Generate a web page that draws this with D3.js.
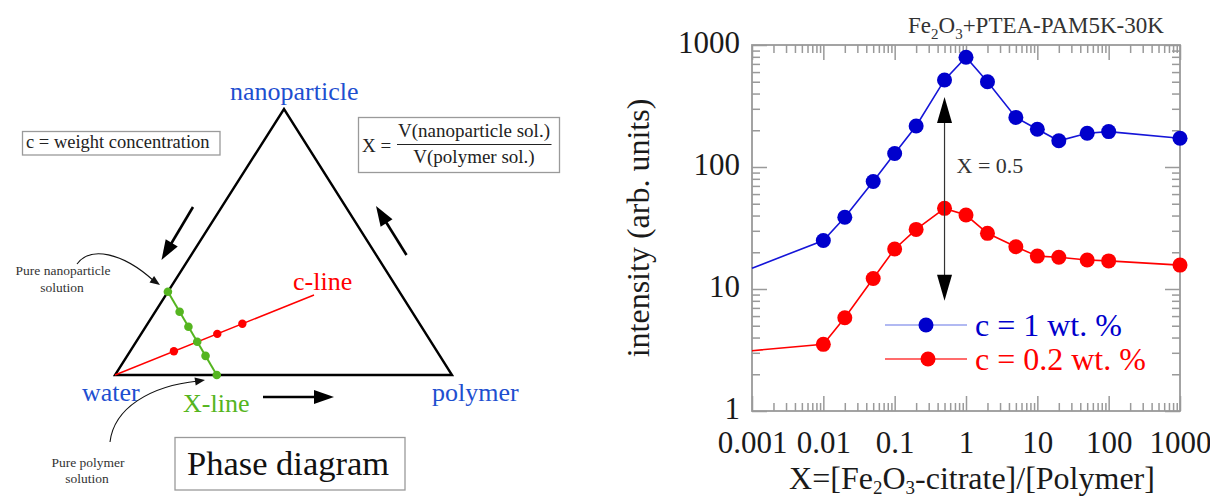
<!DOCTYPE html>
<html><head><meta charset="utf-8">
<script src="https://cdn.jsdelivr.net/npm/d3@7"></script>
<style>
body{margin:0;background:#fff}
svg{display:block}
text{font-family:"Liberation Serif","Times New Roman",serif}
</style>
</head><body>
<svg id="c" width="1210" height="502"></svg>
<script>
// ---------------- data (right chart) ----------------
const xRatio = [0.01, 0.02, 0.05, 0.1, 0.2, 0.5, 1, 2, 5, 10, 20, 50, 100, 1000];
const intensity1wt = [25, 38.7, 76, 129, 217, 517, 793, 500, 255, 204, 164, 189, 195, 172];
const intensity02wt = [3.52, 5.82, 12.2, 21.3, 30.8, 45.8, 40.4, 28.6, 22.2, 18.6, 18.2, 17.3, 17.0, 15.7];
const lineStartX = 0.001;            // lines continue to the left edge
const lineStart1wt = 14.8;
const lineStart02wt = 3.12;
const xTickLabels = ["0.001", "0.01", "0.1", "1", "10", "100", "1000"];
const yTickLabels = ["1", "10", "100", "1000"];
const seriesNames = ["c = 1 wt. %", "c = 0.2 wt. %"];
const arrowX = 0.5, arrowFrom = 8.0, arrowTo = 375;

// ---------------- data (phase diagram) ----------------
const cornerNames = ["water", "polymer", "nanoparticle"];
const cLineDots = [0.296, 0.514, 0.64];       // fractions along c-line
const xLineDots = [0, 0.24, 0.42, 0.60, 0.77, 1]; // fractions along X-line

const svg = d3.select("#c");
const BLUE = "#0000cc", RED = "#ff0000";

// ================= RIGHT CHART =================
const x = d3.scaleLog().domain([0.001, 1000]).range([752, 1180]);
const y = d3.scaleLog().domain([1, 1000]).range([411, 45]);
const majorX = xTickLabels.map(Number), majorY = yTickLabels.map(Number);
const minorX = x.ticks().filter(v => !majorX.some(m => Math.abs(m - v) / m < 1e-6));
const minorY = y.ticks().filter(v => !majorY.some(m => Math.abs(m - v) / m < 1e-6));
const g = svg.append("g");
const TICKC = "#9a9a9a";

function styleAxis(sel){
  sel.select(".domain").remove();
  sel.selectAll(".tick line").attr("stroke", TICKC).attr("stroke-width", 1.5);
  sel.selectAll(".tick text").attr("fill", "#1a1a1a").style("font-family", '"Liberation Serif",serif');
}
// bottom
g.append("g").attr("transform", "translate(0,411)")
  .call(d3.axisBottom(x).tickValues(majorX).tickSize(-15).tickPadding(20).tickFormat((d, i) => xTickLabels[i]))
  .call(styleAxis).call(s => s.selectAll(".tick text").attr("font-size", 31));
g.append("g").attr("transform", "translate(0,411)")
  .call(d3.axisBottom(x).tickValues(minorX).tickSize(-8).tickFormat("")).call(styleAxis);
// top
g.append("g").attr("transform", "translate(0,45)")
  .call(d3.axisTop(x).tickValues(majorX).tickSize(-15).tickFormat("")).call(styleAxis);
g.append("g").attr("transform", "translate(0,45)")
  .call(d3.axisTop(x).tickValues(minorX).tickSize(-8).tickFormat("")).call(styleAxis);
// left
g.append("g").attr("transform", "translate(752,0)")
  .call(d3.axisLeft(y).tickValues(majorY).tickSize(-15).tickPadding(12).tickFormat((d, i) => yTickLabels[i]))
  .call(styleAxis).call(s => s.selectAll(".tick text").attr("font-size", 31).attr("dy", "0.24em"));
g.append("g").attr("transform", "translate(752,0)")
  .call(d3.axisLeft(y).tickValues(minorY).tickSize(-8).tickFormat("")).call(styleAxis);
// right
g.append("g").attr("transform", "translate(1180,0)")
  .call(d3.axisRight(y).tickValues(majorY).tickSize(-15).tickFormat("")).call(styleAxis);
g.append("g").attr("transform", "translate(1180,0)")
  .call(d3.axisRight(y).tickValues(minorY).tickSize(-8).tickFormat("")).call(styleAxis);
// frame
g.append("rect").attr("x", 752).attr("y", 45).attr("width", 428).attr("height", 366)
  .attr("fill", "none").attr("stroke", TICKC).attr("stroke-width", 1.8);

// series
const line = d3.line().x(d => x(d[0])).y(d => y(d[1]));
const s1 = [[lineStartX, lineStart1wt]].concat(xRatio.map((v, i) => [v, intensity1wt[i]]));
const s2 = [[lineStartX, lineStart02wt]].concat(xRatio.map((v, i) => [v, intensity02wt[i]]));
g.append("path").datum(s1).attr("d", line).attr("fill", "none").attr("stroke", "#1515d8").attr("stroke-width", 1.6);
g.append("path").datum(s2).attr("d", line).attr("fill", "none").attr("stroke", RED).attr("stroke-width", 1.6);
g.selectAll(".m1").data(xRatio).enter().append("circle")
  .attr("cx", d => x(d)).attr("cy", (d, i) => y(intensity1wt[i])).attr("r", 7.5).attr("fill", BLUE);
g.selectAll(".m2").data(xRatio).enter().append("circle")
  .attr("cx", d => x(d)).attr("cy", (d, i) => y(intensity02wt[i])).attr("r", 7.5).attr("fill", RED);

// double arrow X = 0.5
const ax = x(arrowX), ay1 = y(arrowTo), ay2 = y(arrowFrom);
g.append("line").attr("x1", ax).attr("x2", ax).attr("y1", ay1 + 10).attr("y2", ay2 - 10).attr("stroke", "#333").attr("stroke-width", 1.2);
g.append("path").attr("d", `M${ax},${ay1} L${ax - 7.5},${ay1 + 26} L${ax + 7.5},${ay1 + 26} Z`).attr("fill", "#000");
g.append("path").attr("d", `M${ax},${ay2} L${ax - 7.5},${ay2 - 26} L${ax + 7.5},${ay2 - 26} Z`).attr("fill", "#000");
g.append("text").attr("x", ax + 12).attr("y", 173).attr("font-size", 22).attr("fill", "#333").text("X = " + arrowX);

// title
const title = g.append("text").attr("x", 908).attr("y", 33).attr("font-size", 23).attr("fill", "#333");
title.append("tspan").text("Fe");
title.append("tspan").attr("dy", 6).attr("font-size", 15).text("2");
title.append("tspan").attr("dy", -6).text("O");
title.append("tspan").attr("dy", 6).attr("font-size", 15).text("3");
title.append("tspan").attr("dy", -6).text("+PTEA-PAM5K-30K");

// axis titles
g.append("text").attr("transform", "translate(649,228) rotate(-90)").attr("text-anchor", "middle")
  .attr("font-size", 32).attr("fill", "#1a1a1a").text("intensity (arb. units)");
const xt = g.append("text").attr("x", 972).attr("y", 489).attr("text-anchor", "middle").attr("font-size", 32).attr("fill", "#1a1a1a");
xt.append("tspan").text("X=[Fe");
xt.append("tspan").attr("dy", 5).attr("font-size", 19).text("2");
xt.append("tspan").attr("dy", -5).text("O");
xt.append("tspan").attr("dy", 5).attr("font-size", 19).text("3");
xt.append("tspan").attr("dy", -5).text("-citrate]/[Polymer]");

// legend
const legColors = [[BLUE, "#97a2ee"], [RED, "#ff3b3b"]];
const legY = [325, 359];
seriesNames.forEach((name, i) => {
  g.append("line").attr("x1", 885).attr("x2", 967).attr("y1", legY[i]).attr("y2", legY[i])
    .attr("stroke", legColors[i][1]).attr("stroke-width", 1.5);
  g.append("circle").attr("cx", 926 + i * 2).attr("cy", legY[i]).attr("r", 7.5).attr("fill", legColors[i][0]);
  g.append("text").attr("x", 975).attr("y", legY[i] + 11).attr("font-size", 32).attr("fill", legColors[i][0]).text(name);
});

// ================= PHASE DIAGRAM =================
const P = {water: [115, 375], polymer: [452, 375], nano: [284, 109]};
const pd = svg.append("g");
pd.append("path").attr("d", `M${P.water}L${P.polymer}L${P.nano}Z`).attr("fill", "none")
  .attr("stroke", "#000").attr("stroke-width", 2.4).attr("stroke-linejoin", "miter");

const LBLUE = "#1e4fd0", GREEN = "#55b520";
pd.append("text").attr("x", 230).attr("y", 100).attr("font-size", 26).attr("fill", LBLUE).text(cornerNames[2]);
pd.append("text").attr("x", 82).attr("y", 401).attr("font-size", 26).attr("fill", LBLUE).text(cornerNames[0]);
pd.append("text").attr("x", 432).attr("y", 401).attr("font-size", 26).attr("fill", LBLUE).text(cornerNames[1]);

// c-line
const cEnd = [314, 295];
const cInt = d3.interpolate(P.water, cEnd);
pd.append("line").attr("x1", P.water[0]).attr("y1", P.water[1]).attr("x2", cEnd[0]).attr("y2", cEnd[1])
  .attr("stroke", RED).attr("stroke-width", 1.5);
pd.append("text").attr("x", 293).attr("y", 290).attr("font-size", 26).attr("fill", RED).text("c-line");
// X-line
const xTop = d3.interpolate(P.water, P.nano)(0.313);
const xBot = d3.interpolate(P.water, P.polymer)(0.302);
const xInt = d3.interpolate(xTop, xBot);
pd.append("line").attr("x1", xTop[0]).attr("y1", xTop[1]).attr("x2", xBot[0]).attr("y2", xBot[1])
  .attr("stroke", GREEN).attr("stroke-width", 2);
pd.selectAll(".cd").data(cLineDots).enter().append("circle")
  .attr("cx", d => cInt(d)[0]).attr("cy", d => cInt(d)[1]).attr("r", 4.2).attr("fill", RED);
pd.selectAll(".xd").data(xLineDots).enter().append("circle")
  .attr("cx", d => xInt(d)[0]).attr("cy", d => xInt(d)[1]).attr("r", 4.3).attr("fill", GREEN);
pd.append("text").attr("x", 183).attr("y", 412).attr("font-size", 26).attr("fill", GREEN).text("X-line");

// black arrows
function arrow(x1, y1, x2, y2, hl, hw, w){
  const a = Math.atan2(y2 - y1, x2 - x1), c = Math.cos(a), s = Math.sin(a);
  const bx = x2 - hl * c, by = y2 - hl * s;
  pd.append("line").attr("x1", x1).attr("y1", y1).attr("x2", bx + 2 * c).attr("y2", by + 2 * s)
    .attr("stroke", "#000").attr("stroke-width", w);
  pd.append("path").attr("d", `M${x2},${y2}L${bx - hw * s},${by + hw * c}L${bx + hw * s},${by - hw * c}Z`).attr("fill", "#000");
}
arrow(193, 207, 161.5, 260, 20, 7, 2.6);
arrow(406.5, 255, 376, 206, 20, 7, 2.6);
arrow(263, 397, 334, 397, 20, 7, 2.6);

// curved annotation arrows
function curve(d, tip, from){
  pd.append("path").attr("d", d).attr("fill", "none").attr("stroke", "#111").attr("stroke-width", 1.1);
  const a = Math.atan2(tip[1] - from[1], tip[0] - from[0]), c = Math.cos(a), s = Math.sin(a);
  const hl = 10, hw = 4, bx = tip[0] - hl * c, by = tip[1] - hl * s;
  pd.append("path").attr("d", `M${tip}L${bx - hw * s},${by + hw * c}L${bx + hw * s},${by - hw * c}Z`).attr("fill", "#111");
}
curve("M77,264 C90,246 122,252 154,281", [160, 285], [150, 278]);
curve("M110,442 C114,408 150,386 198,381", [205, 380], [195, 381.5]);

pd.append("text").attr("x", 63).attr("y", 275).attr("text-anchor", "middle").attr("font-size", 13.5).attr("fill", "#333").text("Pure nanoparticle");
pd.append("text").attr("x", 62).attr("y", 292).attr("text-anchor", "middle").attr("font-size", 13.5).attr("fill", "#333").text("solution");
pd.append("text").attr("x", 88).attr("y", 467).attr("text-anchor", "middle").attr("font-size", 13.5).attr("fill", "#333").text("Pure polymer");
pd.append("text").attr("x", 87).attr("y", 483).attr("text-anchor", "middle").attr("font-size", 13.5).attr("fill", "#333").text("solution");

// boxes
pd.append("rect").attr("x", 22.5).attr("y", 131.5).attr("width", 197.5).attr("height", 23.5)
  .attr("fill", "none").attr("stroke", "#9a9a9a").attr("stroke-width", 1.3);
pd.append("text").attr("x", 26).attr("y", 148).attr("font-size", 18.5).attr("fill", "#222").text("c = weight concentration");

pd.append("rect").attr("x", 358.5).attr("y", 117.5).attr("width", 201).attr("height", 55)
  .attr("fill", "none").attr("stroke", "#9a9a9a").attr("stroke-width", 1.3);
pd.append("text").attr("x", 362).attr("y", 152).attr("font-size", 19).attr("fill", "#222").text("X =");
pd.append("line").attr("x1", 397).attr("x2", 551.5).attr("y1", 144.5).attr("y2", 144.5).attr("stroke", "#222").attr("stroke-width", 1);
pd.append("text").attr("x", 474).attr("y", 137).attr("text-anchor", "middle").attr("font-size", 19).attr("fill", "#222").text("V(nanoparticle sol.)");
pd.append("text").attr("x", 474).attr("y", 163).attr("text-anchor", "middle").attr("font-size", 19).attr("fill", "#222").text("V(polymer sol.)");

pd.append("rect").attr("x", 175).attr("y", 437.5).attr("width", 230).attr("height", 52.5)
  .attr("fill", "none").attr("stroke", "#9a9a9a").attr("stroke-width", 1.3);
pd.append("text").attr("x", 187).attr("y", 475).attr("font-size", 34.5).attr("fill", "#111").text("Phase diagram");
</script>
</body></html>
